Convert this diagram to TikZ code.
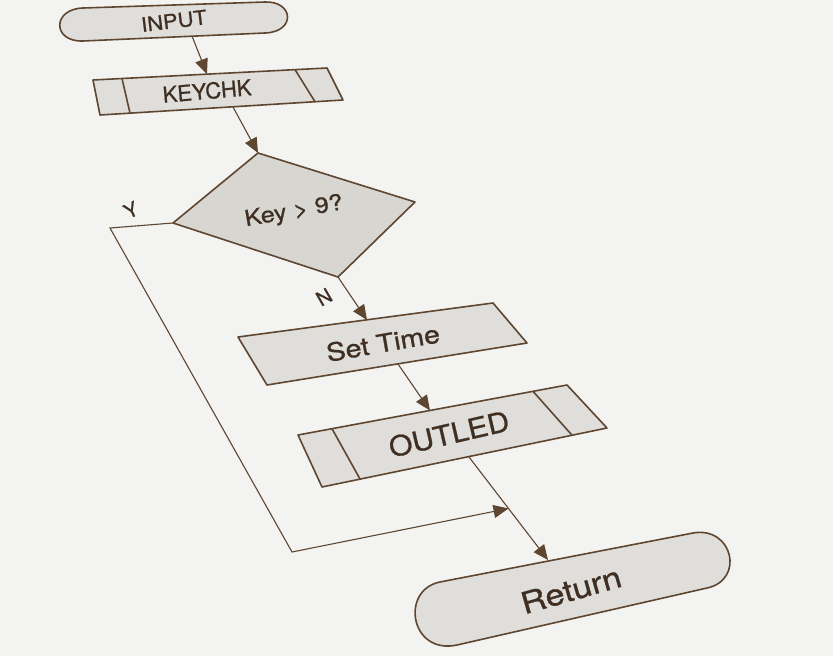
\documentclass[tikz,border=0pt]{standalone}
\usepackage{fontspec}
\setmainfont{TeX Gyre Heros}[FakeBold=0.8]
\usetikzlibrary{arrows.meta,calc}
\definecolor{paper}{HTML}{F3F3F1}
\definecolor{boxfill}{HTML}{E0DEDA}
\definecolor{dfill}{HTML}{D8D6D1}
\definecolor{ink}{HTML}{5E4630}
\definecolor{txt}{HTML}{3E2F22}
\begin{document}
\begin{tikzpicture}[x=1pt,y=-1pt,
  shp/.style={draw=ink,fill=boxfill,line width=1.6pt,line join=round},
  inner/.style={draw=ink,line width=1.6pt},
  conn/.style={draw=ink,line width=1.1pt},
  arr/.style={conn,-{Triangle[length=15pt,width=13pt]}},
  lbl/.style={text=txt,inner sep=0pt}]
\fill[paper] (0,0) rectangle (833,656);
\useasboundingbox (0,0) rectangle (833,656);

% INPUT terminal
\draw[shp] (83,8) -- (265,2) .. controls (294,1) and (296,32) .. (265,33) -- (83,41) .. controls (52,42) and (52,9) .. (83,8) -- cycle;
\node[lbl,rotate=7,xscale=1.1,font=\fontsize{20}{20}\selectfont] (tin) at (174,21) {INPUT};
\coordinate (inB) at (192,36);

% KEYCHK
\draw[shp] (93,80) -- (327,68) -- (343,100) -- (100,115) -- cycle;
\draw[inner] (122,78.5) -- (130,113);
\draw[inner] (295,69.6) -- (315,101.7);
\node[lbl,rotate=5,font=\fontsize{22}{22}\selectfont] (tkey) at (207,91) {KEYCHK};
\coordinate (kcT) at (207,74);
\coordinate (kcB) at (233,107);

% Decision
\draw[shp,fill=dfill] (258,153) -- (415,202) -- (338,277) -- (173,223) -- cycle;
\coordinate (dT) at (258,153);
\coordinate (dB) at (338,277);
\coordinate (dL) at (173,223);
\node[lbl,rotate=10,xscale=1.15,font=\fontsize{22}{22}\selectfont] (tdec) at (294,212) {Key > 9?};
\node[lbl,rotate=25,font=\fontsize{20}{20}\selectfont] (ty) at (131,210) {Y};
\node[lbl,rotate=30,font=\fontsize{20}{20}\selectfont] (tn) at (324,297) {N};

% Set Time
\draw[shp] (238,337) -- (493,303) -- (527,343) -- (267,385) -- cycle;
\node[lbl,rotate=10,xscale=1.15,font=\fontsize{25}{25}\selectfont] (tset) at (383,343) {Set Time};
\coordinate (sT) at (367,320);
\coordinate (sB) at (398,364);

% OUTLED
\draw[shp] (298,435) -- (567,385) -- (607,428) -- (322,487) -- cycle;
\draw[inner] (332,428.7) -- (360,479);
\draw[inner] (533,391.3) -- (572,435.2);
\node[lbl,rotate=13,xscale=1.08,font=\fontsize{28}{28}\selectfont] (tout) at (449,434) {OUTLED};
\coordinate (oT) at (430,410.5);
\coordinate (oB) at (469,457);

% Return terminal
\draw[shp] (440,582) -- (693,533) .. controls (733,526) and (745,580) .. (707,588) -- (457,645) .. controls (410,655) and (400,590) .. (440,582) -- cycle;
\node[lbl,rotate=16,xscale=1.15,font=\fontsize{30}{30}\selectfont] (tret) at (571,590) {Return};
\coordinate (rT) at (548,560);

% connectors
\draw[arr] (inB) -- (kcT);
\draw[arr] (kcB) -- (dT);
\draw[arr] (dB) -- (sT);
\draw[arr] (sB) -- (oT);
\draw[arr] (oB) -- (rT);
\coordinate (yc1) at (110,228);
\coordinate (yc2) at (292,552);
\coordinate (join) at ($(oB)!0.5!(rT)$);
\draw[arr] (dL) -- (yc1) -- (yc2) -- (join);
\end{tikzpicture}
\end{document}
